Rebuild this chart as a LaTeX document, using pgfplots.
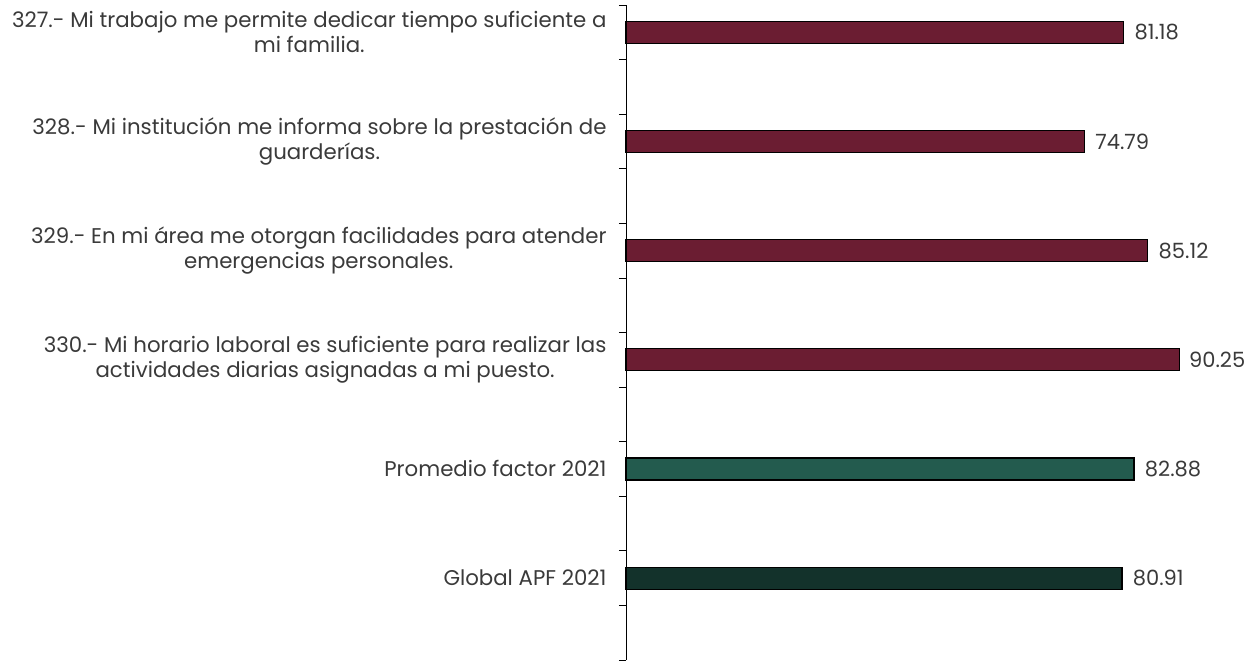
\documentclass[border=0pt]{standalone}
\usepackage{pgfplots}
\pgfplotsset{compat=1.18}
\usepackage{fontspec}
\setmainfont{Poppins}
\definecolor{guinda}{HTML}{6B1D32}
\definecolor{verde}{HTML}{235B4E}
\definecolor{verdeosc}{HTML}{13322B}
\definecolor{txt}{HTML}{3A3A3A}
\begin{document}
\begin{tikzpicture}
\path[use as bounding box] (-626bp,-1bp) rectangle (619bp,660bp);
\begin{axis}[
  at={(0,0)}, anchor=south west,
  scale only axis,
  width=613bp, height=655bp,
  xmin=0, xmax=100, ymin=0, ymax=12,
  axis x line=none,
  axis y line*=left,
  y axis line style={black, line width=0.8pt, -},
  xbar, bar width=22bp, bar shift=0pt,
  ytick={1.5,3.5,5.5,7.5,9.5,11.5},
  yticklabels={{Global APF 2021},{Promedio factor 2021},
    {330.- Mi horario laboral es suficiente para realizar las\\actividades diarias asignadas a mi puesto.},
    {329.- En mi área me otorgan facilidades para atender\\emergencias personales.},
    {328.- Mi institución me informa sobre la prestación de\\guarderías.},
    {327.- Mi trabajo me permite dedicar tiempo suficiente a\\mi familia.}},
  major tick length=0pt,
  minor ytick={0,1,...,12},
  minor tick length=7bp,
  y tick style={black, line width=0.8pt},
  tick align=outside,
  yticklabel style={align=center, font=\fontsize{21.3bp}{25bp}\selectfont, text=txt, xshift=-16bp},
  nodes near coords,
  nodes near coords style={font=\fontsize{21bp}{25bp}\selectfont, text=txt, anchor=west, xshift=7bp},
  point meta=explicit symbolic,
  clip=false,
]
\addplot[fill=guinda, draw=black, line width=1.2pt] coordinates {
  (85.12,7.5) [85.12]
  (74.79,9.5) [74.79]
  (81.18,11.5) [81.18]
};
\addplot[fill=guinda, draw=black, line width=1.2pt,
  nodes near coords style={xshift=-1bp}] coordinates {(90.25,5.5) [90.25]};
\addplot[fill=verde, draw=black, line width=1.2pt] coordinates {(82.88,3.5) [82.88]};
\addplot[fill=verdeosc, draw=black, line width=1.2pt] coordinates {(80.91,1.5) [80.91]};
\end{axis}
\end{tikzpicture}
\end{document}
